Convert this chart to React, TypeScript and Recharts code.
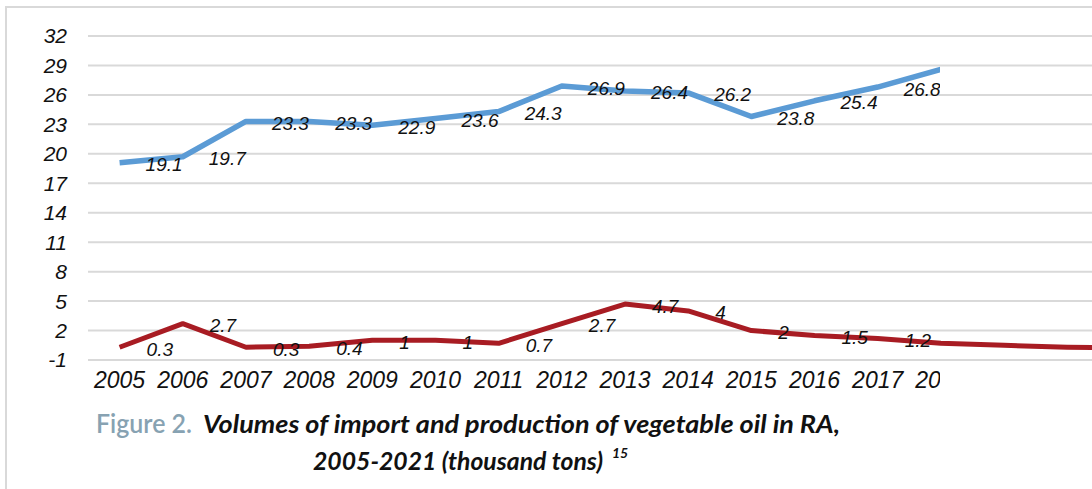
import React from 'react';
import { LineChart, Line, XAxis, YAxis, CartesianGrid, LabelList } from 'recharts';

const years = [
  '2005', '2006', '2007', '2008', '2009', '2010', '2011', '2012', '2013',
  '2014', '2015', '2016', '2017', '2018', '2019', '2020', '2021',
];
// thousand tons
const importVolume: (number | null)[] = [
  19.1, 19.7, 23.3, 23.3, 22.9, 23.6, 24.3, 26.9, 26.4, 26.2, 23.8, 25.4, 26.8, 28.6, null, null, null,
];
const productionVolume = [0.3, 2.7, 0.3, 0.4, 1, 1, 0.7, 2.7, 4.7, 4, 2, 1.5, 1.2, 0.7, 0.5, 0.3, 0.2];
const productionLabelledUntil = '2017';
const yearTicks = years.slice(0, 14);
const yTicks = [-1, 2, 5, 8, 11, 14, 17, 20, 23, 26, 29, 32];

const data = years.map((year, i) => ({
  year,
  imports: importVolume[i],
  production: productionVolume[i],
}));

const CHART_W = 1162;
const CHART_H = 400;
const MARGIN = { top: 36, right: 0, left: 0, bottom: 0 };
const X_PAD = { left: 31.6, right: 31.6 };
const FONT = '"Liberation Sans", Arial, sans-serif';
const BLUE = '#5B9BD5';
const RED = '#A81C23';

const makeLabel = (dx: number, hideAfter?: string) => (props: any) => {
  const { x, y, value, index } = props;
  if (value == null || y == null) return null;
  if (hideAfter && index > years.indexOf(hideAfter)) return null;
  return (
    <text
      x={x + dx}
      y={y + 2}
      dominantBaseline="central"
      textAnchor="start"
      fontFamily={FONT}
      fontStyle="italic"
      fontSize={19}
      fill="#111"
    >
      {value}
    </text>
  );
};

export default function App() {
  return (
    <div
      style={{
        position: 'absolute', left: 0, top: 0, width: 1092, height: 489,
        overflow: 'hidden', background: '#fff',
      }}
    >
      {/* frame */}
      <div
        style={{
          position: 'absolute', left: 5, top: 6, width: 2000, height: 1000,
          borderLeft: '2px solid #d9d9d9', borderTop: '2px solid #d9d9d9',
        }}
      />

      {/* grid, y axis, production line */}
      <div style={{ position: 'absolute', left: 0, top: 0 }}>
        <LineChart width={CHART_W} height={CHART_H} data={data} margin={MARGIN}>
          <CartesianGrid horizontal vertical={false} stroke="#d9d9d9" strokeWidth={2} />
          <XAxis dataKey="year" padding={X_PAD} height={40} tick={false} axisLine={false} tickLine={false} />
          <YAxis
            type="number"
            domain={[-1, 32]}
            ticks={yTicks}
            interval={0}
            width={88}
            axisLine={false}
            tickLine={false}
            tickSize={0}
            tickMargin={21}
            tick={{ fill: '#111', fontSize: 21, fontStyle: 'italic', fontFamily: FONT }}
          />
          <Line
            dataKey="production"
            stroke={RED}
            strokeWidth={5}
            strokeLinejoin="round"
            dot={false}
            activeDot={false}
            isAnimationActive={false}
          >
            <LabelList dataKey="production" content={makeLabel(27, productionLabelledUntil)} />
          </Line>
        </LineChart>
      </div>

      {/* import line and year axis, cut at the right */}
      <div style={{ position: 'absolute', left: 0, top: 0, width: 940, height: CHART_H, overflow: 'hidden' }}>
        <LineChart width={CHART_W} height={CHART_H} data={data} margin={MARGIN}>
          <XAxis
            dataKey="year"
            padding={X_PAD}
            height={40}
            ticks={yearTicks}
            interval={0}
            axisLine={false}
            tickLine={false}
            tickSize={0}
            tickMargin={12}
            tick={{ fill: '#111', fontSize: 23, fontStyle: 'italic', fontFamily: FONT }}
          />
          <YAxis type="number" domain={[-1, 32]} ticks={yTicks} width={88} tick={false} axisLine={false} tickLine={false} />
          <Line
            dataKey="imports"
            stroke={BLUE}
            strokeWidth={5.5}
            strokeLinejoin="round"
            dot={false}
            activeDot={false}
            isAnimationActive={false}
          >
            <LabelList dataKey="imports" content={makeLabel(26)} />
          </Line>
        </LineChart>
      </div>

      {/* caption */}
      <svg
        width={1092}
        height={89}
        style={{ position: 'absolute', left: 0, top: 400 }}
        fontFamily='Lato, "Open Sans", sans-serif'
      >
        <text x={96} y={33} fontSize={26} fontWeight={600} fill="#87A2B2" textLength={96} lengthAdjust="spacingAndGlyphs">
          Figure 2.
        </text>
        <text x={203} y={33} fontSize={25} fontWeight={700} fontStyle="italic" fill="#111" textLength={637} lengthAdjust="spacingAndGlyphs">
          Volumes of import and production of vegetable oil in RA,
        </text>
        <text x={313} y={70} fontSize={25} fontWeight={700} fontStyle="italic" fill="#111" textLength={290} lengthAdjust="spacingAndGlyphs">
          2005-2021 (thousand tons)
        </text>
        <text x={612} y={58} fontSize={14} fontWeight={700} fontStyle="italic" fill="#111">
          15
        </text>
      </svg>
    </div>
  );
}
